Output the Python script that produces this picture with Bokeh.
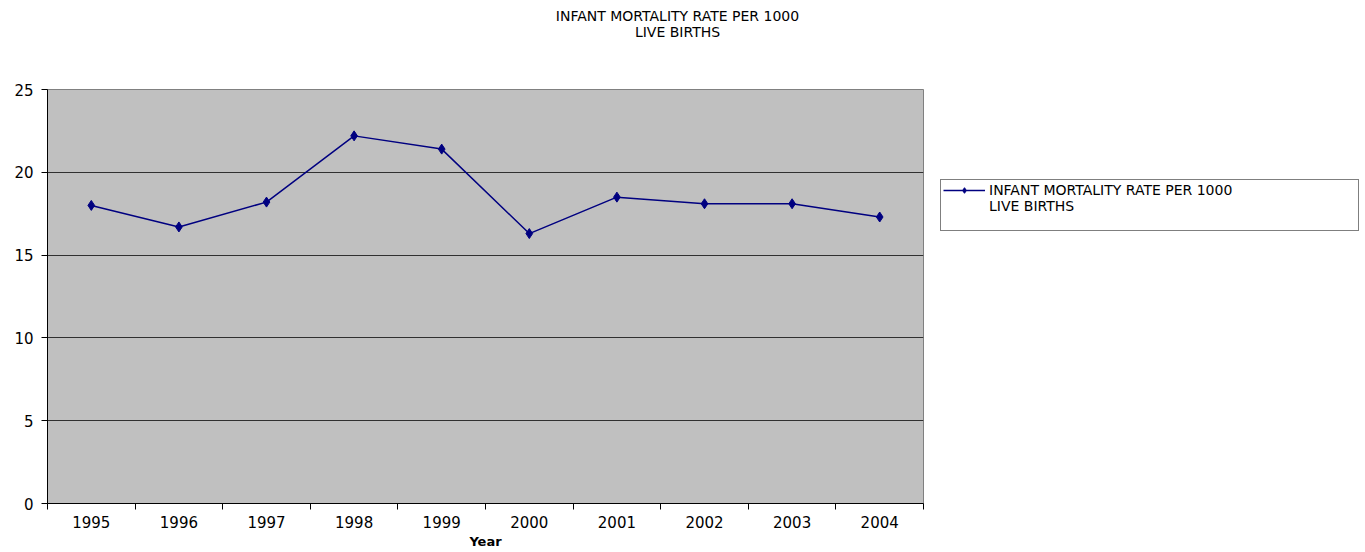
from bokeh.plotting import figure
from bokeh.models import FixedTicker, Legend, LegendItem, Label, Range1d, ColumnDataSource
from bokeh.layouts import row, column
from bokeh.embed import file_html
from bokeh.resources import INLINE
import numpy as np

years = ["1995", "1996", "1997", "1998", "1999", "2000", "2001", "2002", "2003", "2004"]
rates = [18.0, 16.7, 18.2, 22.2, 21.4, 16.3, 18.5, 18.1, 18.1, 17.3]
title_lines = ["INFANT MORTALITY RATE PER 1000", "LIVE BIRTHS"]
series_lines = ["INFANT MORTALITY RATE PER 1000", "LIVE BIRTHS"]
x_label = "Year"
y_ticks = [0, 5, 10, 15, 20, 25]

FONT = "DejaVu Sans"
NAVY = "#000080"
pos = list(np.arange(len(years)) + 0.5)
src = ColumnDataSource(dict(x=pos, y=rates, year=years))

# ---- title strip across the whole page ----
t = figure(width=1364, height=45, output_backend="svg", toolbar_location=None,
           x_range=Range1d(0, 1364), y_range=Range1d(0, 45),
           x_axis_location=None, y_axis_location=None, min_border=0)
t.title.visible = False
t.outline_line_color = None
t.grid.visible = False
for txt, yy in zip(title_lines, [30, 14]):
    t.add_layout(Label(x=677, y=yy, text=txt, text_align="center", text_baseline="middle",
                       text_font=FONT, text_font_size="14px", text_color="black"))

# ---- main chart ----
p = figure(width=924, height=506, output_backend="svg", toolbar_location=None,
           x_range=Range1d(0, len(years)), y_range=Range1d(0, 25),
           min_border_left=47, min_border_right=1, min_border_top=44, min_border_bottom=45)
p.title.visible = False
p.background_fill_color = "#C0C0C0"
p.border_fill_color = "white"
p.outline_line_color = "#808080"
p.outline_line_width = 1

r = p.line("x", "y", source=src, line_color=NAVY, line_width=1.5)
m = p.scatter("x", "y", source=src, marker="diamond", size=10, fill_color=NAVY, line_color=NAVY)

p.xaxis.ticker = FixedTicker(ticks=pos, minor_ticks=list(range(len(years) + 1)))
p.xaxis.major_label_overrides = {float(k): v for k, v in zip(pos, years)}
p.xaxis.major_tick_line_color = None
p.xaxis.major_tick_out = 0
p.xaxis.major_tick_in = 0
p.xaxis.minor_tick_out = 6
p.xaxis.minor_tick_in = 0
p.xaxis.minor_tick_line_color = "black"
p.xaxis.axis_line_color = "black"
p.xaxis.major_label_text_font = FONT
p.xaxis.major_label_text_font_size = "15px"
p.xaxis.major_label_text_color = "black"
p.xaxis.major_label_standoff = 6
p.xaxis.axis_label = x_label
p.xaxis.axis_label_text_font = FONT
p.xaxis.axis_label_text_font_size = "13px"
p.xaxis.axis_label_text_font_style = "bold"
p.xaxis.axis_label_text_color = "black"
p.xaxis.axis_label_standoff = 3

p.yaxis.ticker = FixedTicker(ticks=y_ticks, minor_ticks=[])
p.yaxis.major_tick_out = 6
p.yaxis.major_tick_in = 0
p.yaxis.major_tick_line_color = "black"
p.yaxis.axis_line_color = "black"
p.yaxis.major_label_text_font = FONT
p.yaxis.major_label_text_font_size = "15px"
p.yaxis.major_label_text_color = "black"
p.yaxis.major_label_standoff = 8

p.xgrid.grid_line_color = None
p.ygrid.ticker = FixedTicker(ticks=y_ticks)
p.ygrid.grid_line_color = "#303030"
p.ygrid.grid_line_width = 1

# ---- legend panel: proxies share the data but fall outside this panel's ranges ----
q = figure(width=440, height=506, output_backend="svg", toolbar_location=None,
           x_range=Range1d(0, 1), y_range=Range1d(0, 1),
           x_axis_location=None, y_axis_location=None, min_border=0)
q.title.visible = False
q.outline_line_color = None
q.grid.visible = False
lr = q.line("x", "y", source=src, line_color=NAVY, line_width=1.5)
lm = q.scatter("x", "y", source=src, marker="diamond", size=10, fill_color=NAVY, line_color=NAVY)
d1 = q.line("x", "y", source=src, line_alpha=0)
d2 = q.line("x", "y", source=src, line_alpha=0)

legend = Legend(items=[LegendItem(label=series_lines[0], renderers=[lr, lm]),
                       LegendItem(label=series_lines[1], renderers=[d1]),
                       LegendItem(label=" ", renderers=[d2])],
                location=(16, 272), orientation="vertical",
                label_text_font=FONT, label_text_font_size="14px", label_text_color="black",
                label_width=367, label_height=14, glyph_width=42, glyph_height=14,
                padding=2, margin=0, spacing=0, label_standoff=4,
                border_line_color="black", border_line_width=1, background_fill_color="white",
                background_fill_alpha=1.0)
q.add_layout(legend, "center")

layout = column(t, row(p, q, spacing=0), spacing=0)
open("out.html", "w").write(file_html(layout, INLINE))
